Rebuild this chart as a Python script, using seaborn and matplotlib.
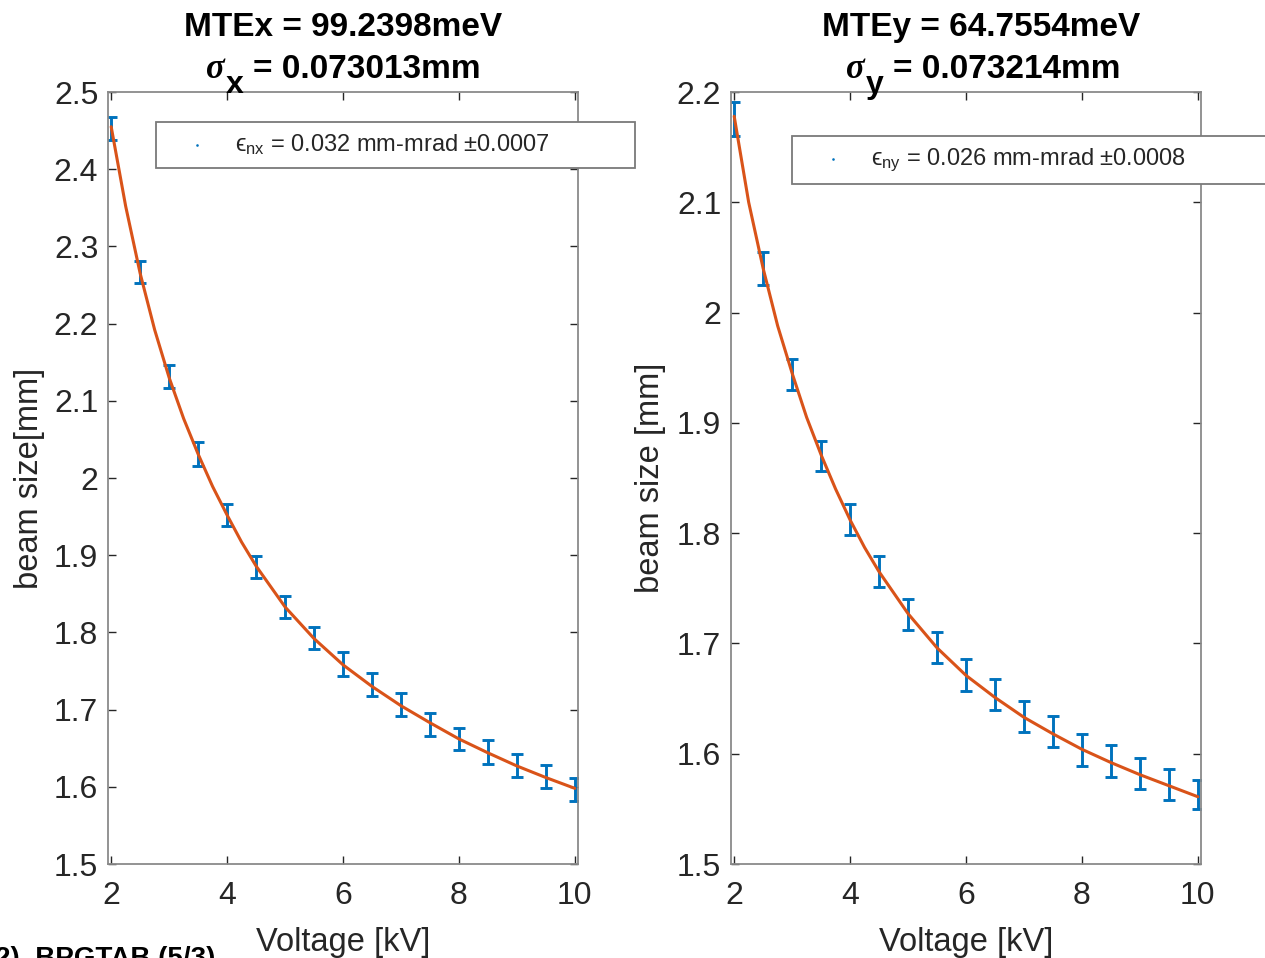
import numpy as np
import pandas as pd
import matplotlib
matplotlib.use("Agg")
import matplotlib.pyplot as plt
from matplotlib.ticker import FuncFormatter, MultipleLocator
import seaborn as sns

# ---- data ----
voltage = [2.0, 2.5, 3.0, 3.5, 4.0, 4.5, 5.0, 5.5, 6.0, 6.5, 7.0, 7.5, 8.0, 8.5, 9.0, 9.5, 10.0]
size_x = [2.453, 2.267, 2.131, 2.031, 1.952, 1.885, 1.833, 1.793, 1.759, 1.733,
          1.707, 1.681, 1.662, 1.645, 1.628, 1.613, 1.597]
err_x = [0.015, 0.0145, 0.015, 0.015, 0.0145, 0.0145, 0.0145, 0.0145, 0.015, 0.015,
         0.015, 0.015, 0.0145, 0.015, 0.015, 0.015, 0.015]
size_y = [2.1755, 2.040, 1.944, 1.870, 1.812, 1.765, 1.726, 1.696, 1.671, 1.654,
          1.634, 1.620, 1.603, 1.593, 1.582, 1.572, 1.563]
err_y = [0.0155, 0.015, 0.014, 0.014, 0.014, 0.014, 0.014, 0.014, 0.0145, 0.014,
         0.014, 0.014, 0.0145, 0.0145, 0.014, 0.014, 0.0135]

fit_v = [2.0, 2.25, 2.5, 2.75, 3.0, 3.25, 3.5, 3.75, 4.0, 4.25, 4.5, 5.0, 5.5, 6.0,
         6.5, 7.0, 7.5, 8.0, 8.5, 9.0, 9.5, 10.0]
fit_x = [2.455, 2.352, 2.265, 2.192, 2.130, 2.077, 2.031, 1.989, 1.952, 1.917, 1.886,
         1.833, 1.792, 1.758, 1.730, 1.705, 1.683, 1.662, 1.644, 1.627, 1.612, 1.598]
fit_y = [2.178, 2.100, 2.040, 1.988, 1.945, 1.905, 1.871, 1.840, 1.812, 1.787, 1.765,
         1.727, 1.696, 1.671, 1.651, 1.633, 1.618, 1.604, 1.592, 1.581, 1.571, 1.561]

titles1 = ["MTEx = 99.2398meV", "MTEy = 64.7554meV"]
sig_sub = ["x", "y"]
titles2 = ["= 0.073013mm", "= 0.073214mm"]
legend_labels = ["\u03f5$_{\\rm nx}$ = 0.032 mm-mrad \u00b10.0007",
                 "\u03f5$_{\\rm ny}$ = 0.026 mm-mrad \u00b10.0008"]
ylabels = ["beam size[mm]", "beam size [mm]"]
xlabel = "Voltage [kV]"
caption = "2)  BPGTAB (5/3)"

# ---- style ----
sns.set_theme(style="ticks")
plt.rcParams["font.family"] = ["Liberation Sans", "DejaVu Sans"]
plt.rcParams["mathtext.fontset"] = "custom"
plt.rcParams["mathtext.rm"] = "Liberation Sans"
plt.rcParams["mathtext.it"] = "Liberation Serif:italic"
plt.rcParams["mathtext.bf"] = "Liberation Sans:bold"

BLUE = "#0072BD"
ORANGE = "#D95319"
SPINE = "#8a8a8a"
TXT = "#262626"

W, H = 1265, 958
fig = plt.figure(figsize=(W / 100, H / 100), dpi=100)

def fx(px):
    return px / W

def fy(py):
    return 1 - py / H

axes_px = [(108, 578), (731, 1201)]
ylims = [(1.5, 2.5), (1.5, 2.2)]
leg_boxes = [(156, 122, 635, 168), (792, 136, 1272, 184)]
sig_pos = [(206, 226, 253), (846, 866, 893)]
title_cx = [343, 981]
ylabelpads = [6.5, 7.5]

datasets = [(size_x, err_x, fit_x), (size_y, err_y, fit_y)]

for i, (l, r) in enumerate(axes_px):
    top, bot = 92, 864
    ax = fig.add_axes([fx(l), fy(bot), fx(r) - fx(l), fy(top) - fy(bot)])
    sizes, errs, fit = datasets[i]
    df = pd.DataFrame({"V": voltage, "s": sizes})
    dff = pd.DataFrame({"V": fit_v, "s": fit})

    ax.errorbar(voltage, sizes, yerr=errs, fmt="none", ecolor=BLUE,
                elinewidth=2.1, capsize=4.5, capthick=2.1, zorder=2)
    sns.scatterplot(data=df, x="V", y="s", ax=ax, color=BLUE, marker=".",
                    s=14, linewidth=0, zorder=3, label=legend_labels[i])
    sns.lineplot(data=dff, x="V", y="s", ax=ax, color=ORANGE, lw=2.2,
                 zorder=4, label="_nolegend_")

    ax.set_xlim(1.945, 10.055)
    ax.set_ylim(*ylims[i])
    ax.xaxis.set_major_locator(MultipleLocator(2))
    ax.yaxis.set_major_locator(MultipleLocator(0.1))
    ax.yaxis.set_major_formatter(FuncFormatter(lambda v, p: f"{v:g}"))
    ax.tick_params(direction="in", length=6, width=1, colors=TXT,
                   labelsize=23, top=True, right=True)
    ax.tick_params(axis="x", pad=12)
    ax.tick_params(axis="y", pad=7)
    for sp in ax.spines.values():
        sp.set_color(SPINE)
        sp.set_linewidth(1.3)
        sp.set_visible(True)

    ax.set_xlabel(xlabel, fontsize=23.5, color=TXT, labelpad=12)
    ax.set_ylabel(ylabels[i], fontsize=23.5, color=TXT, labelpad=ylabelpads[i])

    # titles
    ax_w = r - l
    def afx(px, l=l, ax_w=ax_w):
        return (px - l) / ax_w
    def afy(py):
        return (bot - py) / (bot - top)
    ax.text(afx(title_cx[i]), afy(36), titles1[i], transform=ax.transAxes, ha="center",
            va="baseline", fontsize=24, fontweight="bold", color="black")
    s0, s1, s2 = sig_pos[i]
    ax.text(afx(s0), afy(78), "\u03c3", transform=ax.transAxes, ha="left",
            va="baseline", fontsize=25, fontweight="bold", fontstyle="italic",
            family="Liberation Serif", color="black")
    ax.text(afx(s1), afy(93), sig_sub[i], transform=ax.transAxes, ha="left",
            va="baseline", fontsize=23, fontweight="bold", color="black")
    ax.text(afx(s2), afy(78), titles2[i], transform=ax.transAxes, ha="left",
            va="baseline", fontsize=24, fontweight="bold", color="black")

    # legend
    lx0, ly0, lx1, ly1 = leg_boxes[i]
    bx0, bx1 = afx(lx0), afx(lx1)
    by0, by1 = afy(ly1), afy(ly0)
    leg = ax.legend(loc="upper left", bbox_to_anchor=(bx0, by0, bx1 - bx0, by1 - by0),
                    mode="expand", fontsize=17, frameon=True, fancybox=False,
                    framealpha=1, edgecolor="#7a7a7a", borderpad=0.45,
                    handlelength=2.6, handletextpad=0.3, borderaxespad=0,
                    markerscale=1.0)
    leg.get_frame().set_linewidth(1.3)
    for t in leg.get_texts():
        t.set_color(TXT)

fig.text(-0.004, fy(946), caption, ha="left", va="top", fontsize=20,
         fontweight="bold", color="black")

fig.savefig("out.png", dpi=100)
